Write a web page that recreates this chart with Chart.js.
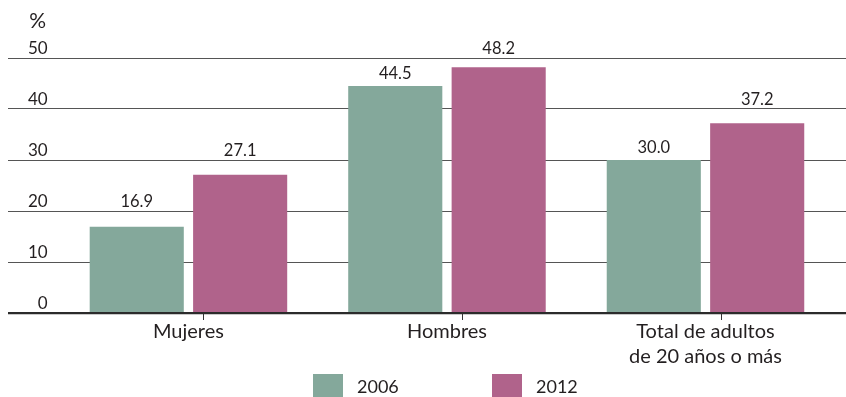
<!DOCTYPE html>
<html lang="es">
<head>
<meta charset="UTF-8">
<title>Mujeres / Hombres 2006-2012</title>
<style>
  body { margin: 0; background: #fff; }
  #wrap { position: relative; width: 846px; height: 397px; overflow: hidden; }
  #legend { position: absolute; left: 313px; top: 374px; display: flex; font-family: Lato, sans-serif; font-size: 18px; color: #231f20; }
  .item { display: flex; align-items: flex-start; width: 179px; }
  .box { width: 30px; height: 25px; margin-right: 14px; }
  .item span { line-height: 25px; }
</style>
</head>
<body>
<div id="wrap">
  <canvas id="myChart" width="846" height="397"></canvas>
  <div id="legend"></div>
</div>

<script src="https://cdn.jsdelivr.net/npm/chart.js@4/dist/chart.umd.min.js"></script>
<script>
// datos
const categorias = ['Mujeres', 'Hombres', ['Total de adultos', 'de 20 años o más']];
const anios = ['2006', '2012'];
const valores2006 = [16.9, 44.5, 30.0];
const valores2012 = [27.1, 48.2, 37.2];
const colores = ['#84a89b', '#b0638b'];
const tinta = '#231f20';

// leyenda en html
const legend = document.getElementById('legend');
anios.forEach((a, i) => {
  const it = document.createElement('div');
  it.className = 'item';
  it.innerHTML = '<div class="box" style="background:' + colores[i] + '"></div><span>' + a + '</span>';
  legend.appendChild(it);
});

// etiquetas de valor encima de cada barra (suben por encima de la linea de rejilla si la tocan)
const valueLabels = {
  id: 'valueLabels',
  afterDatasetsDraw(chart) {
    const ctx = chart.ctx;
    const y = chart.scales.y;
    ctx.save();
    ctx.font = '16.5px Lato, sans-serif';
    ctx.fillStyle = tinta;
    ctx.textAlign = 'center';
    ctx.textBaseline = 'alphabetic';
    chart.data.datasets.forEach((ds, di) => {
      chart.getDatasetMeta(di).data.forEach((bar, i) => {
        let base = bar.y - 7;
        y.ticks.forEach(t => {
          const py = y.getPixelForValue(t.value);
          if (py < bar.y - 2 && py > base - 13) base = Math.min(base, py - 4);
        });
        ctx.fillText(ds.data[i].y.toFixed(1), bar.x, base);
      });
    });
    // unidad del eje
    ctx.font = '21px Lato, sans-serif';
    ctx.textAlign = 'right';
    ctx.fillText('%', 46, 28);
    ctx.restore();
  }
};

const xMin = -0.698, xMax = 2.5435;

new Chart(document.getElementById('myChart'), {
  type: 'bar',
  data: {
    datasets: [
      { label: anios[0], data: valores2006.map((v, i) => ({ x: i, y: v })), backgroundColor: colores[0] },
      { label: anios[1], data: valores2012.map((v, i) => ({ x: i, y: v })), backgroundColor: colores[1] }
    ]
  },
  options: {
    responsive: false,
    animation: false,
    barPercentage: 0.91,
    categoryPercentage: 0.8,
    layout: { padding: { left: 8, right: 0, top: 58, bottom: 23 } },
    plugins: { legend: { display: false }, tooltip: { enabled: false } },
    scales: {
      x: {
        type: 'linear', min: xMin, max: xMax, weight: 1, offset: false,
        afterBuildTicks: s => { s.ticks = categorias.map((c, i) => ({ value: i })); },
        afterFit: s => { s.height = 54; },
        grid: { display: false },
        border: { display: false },
        ticks: {
          callback: (v, i) => categorias[i],
          color: tinta, padding: -9, maxRotation: 0, autoSkip: false,
          font: { family: 'Lato, sans-serif', size: 20, lineHeight: 1.25 }
        }
      },
      x2: {
        type: 'linear', axis: 'x', position: 'bottom', min: xMin, max: xMax, weight: 0, offset: false,
        afterBuildTicks: s => { s.ticks = [-0.44, 0.56, 1.56].map(v => ({ value: v })); },
        grid: { drawOnChartArea: false, drawTicks: true, tickLength: 7, color: '#333', lineWidth: 1 },
        border: { display: false },
        ticks: { display: false }
      },
      y: {
        min: 0, max: 50,
        afterFit: s => { s.width = 0; },
        border: { display: false },
        grid: {
          drawTicks: false,
          color: c => c.tick && c.tick.value === 0 ? '#2b2b2b' : '#555',
          lineWidth: c => c.tick && c.tick.value === 0 ? 2.2 : 1
        },
        ticks: {
          stepSize: 10, mirror: true, crossAlign: 'far', padding: 20, labelOffset: -9,
          color: tinta, font: { family: 'Lato, sans-serif', size: 17 }
        }
      }
    }
  },
  plugins: [valueLabels]
});
</script>
</body>
</html>
